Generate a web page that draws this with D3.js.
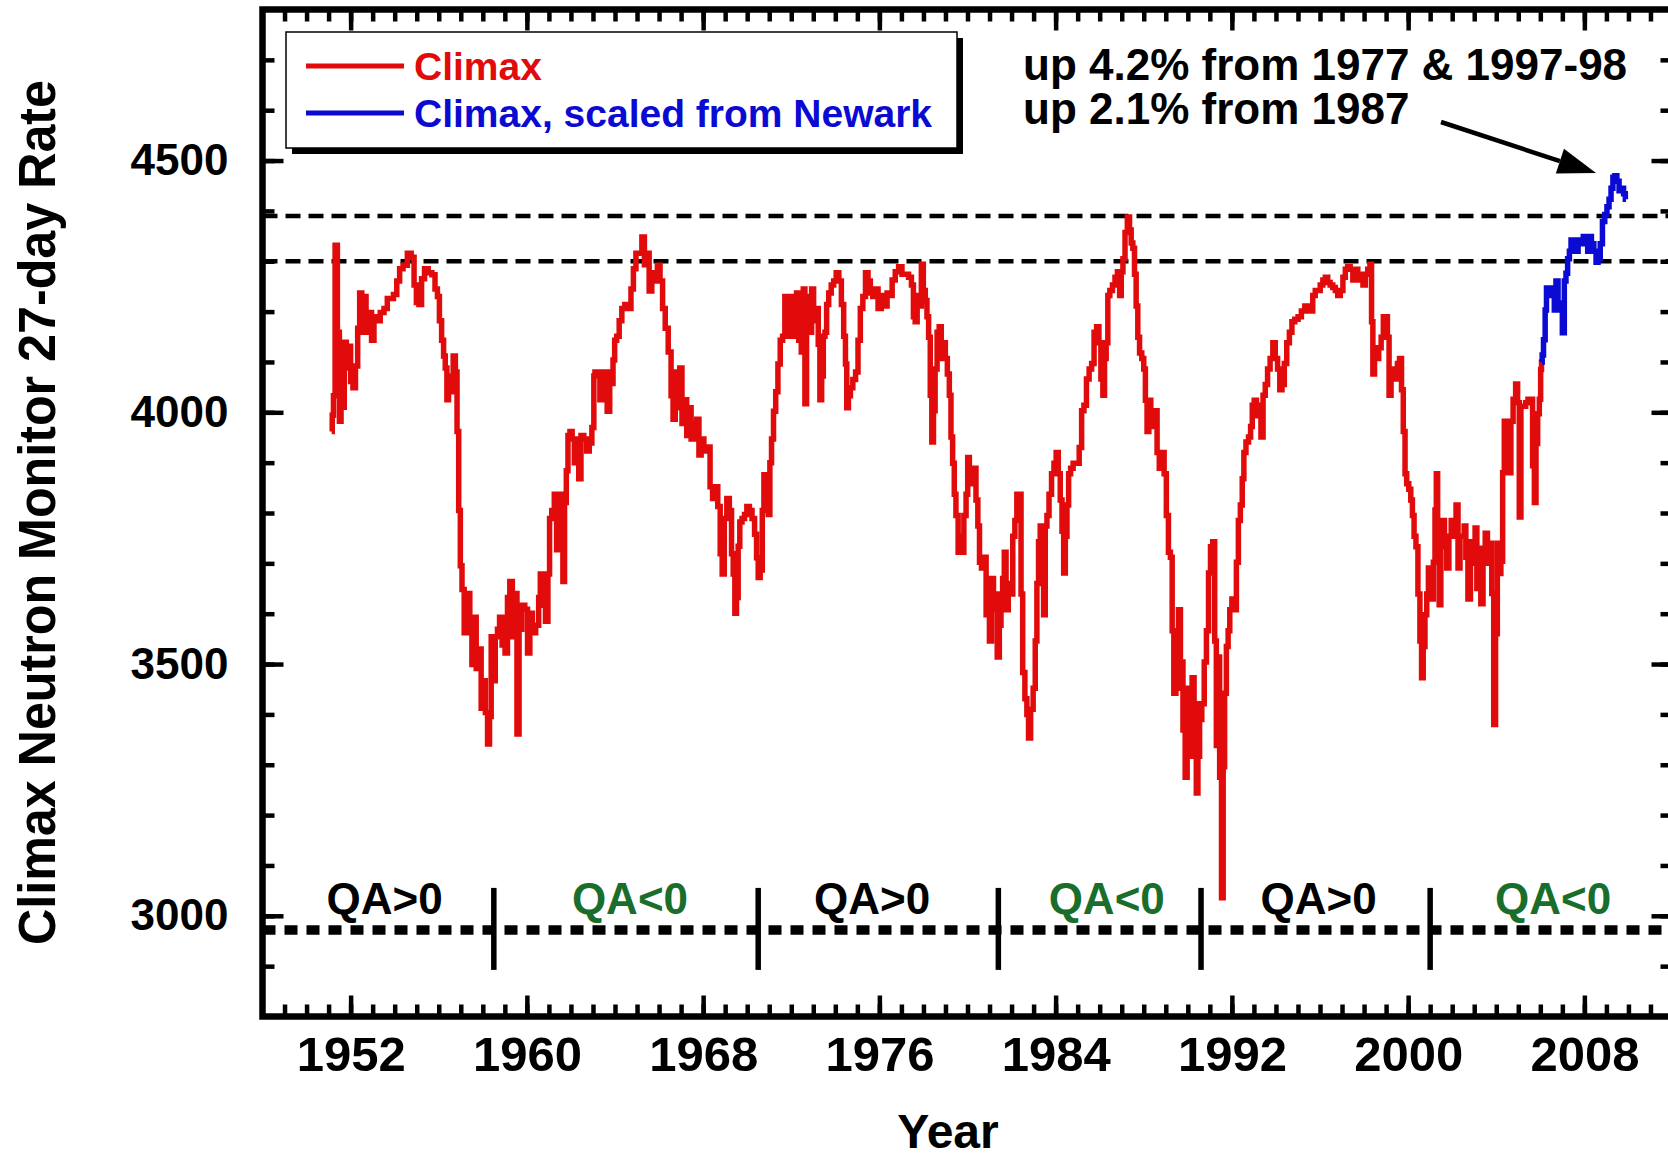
<!DOCTYPE html>
<html>
<head>
<meta charset="utf-8">
<script src="https://cdn.jsdelivr.net/npm/d3@7"></script>
<style>
  html, body { margin: 0; padding: 0; background: #fff; }
  svg { display: block; }
  text { font-family: "Liberation Sans", Arial, Helvetica, sans-serif; font-weight: bold; }
</style>
</head>
<body>
<svg id="chart" width="1668" height="1158"></svg>
<script>
// Climax neutron monitor 27-day averaged counting rate: [year, rate]
const climax1950s = [[1951.14,3962],[1951.19,3994],[1951.25,4033],[1951.34,4332],[1951.46,4159],[1951.52,3982],[1951.61,4120],[1951.67,4010],[1951.75,4139],[1951.86,4088],[1951.95,4131],[1952.05,4061],[1952.16,4049],[1952.28,4092],[1952.36,4167],[1952.46,4237],[1952.55,4159],[1952.66,4230],[1952.74,4159],[1952.89,4198],[1953.01,4143],[1953.11,4190],[1953.27,4182],[1953.42,4198],[1953.61,4206],[1953.72,4226],[1953.87,4226],[1954.02,4234],[1954.17,4261],[1954.28,4285],[1954.48,4292],[1954.67,4316],[1954.83,4308],[1954.93,4253],[1955.04,4218],[1955.16,4214],[1955.28,4265],[1955.43,4285],[1955.61,4277],[1955.77,4273],[1955.89,4245],[1955.99,4230],[1956.07,4182],[1956.19,4143],[1956.25,4112],[1956.34,4088],[1956.40,4025],[1956.49,4072],[1956.60,4041],[1956.71,4112],[1956.80,4080],[1956.86,3962],[1956.95,3805],[1957.01,3695],[1957.10,3648],[1957.21,3562],[1957.36,3640],[1957.46,3562],[1957.55,3499],[1957.66,3593],[1957.74,3491],[1957.89,3530],[1957.96,3412],[1958.07,3467],[1958.16,3404],[1958.27,3341],[1958.34,3396],[1958.42,3554],[1958.52,3467],[1958.61,3554],[1958.72,3569],[1958.80,3593],[1958.95,3538],[1959.07,3522],[1959.17,3632],[1959.28,3664],[1959.40,3554],[1959.52,3640],[1959.58,3361],[1959.71,3569],[1959.83,3617],[1959.98,3609]];

const climax1960s = [[1960.08,3522],[1960.19,3601],[1960.31,3562],[1960.49,3577],[1960.58,3632],[1960.64,3679],[1960.77,3617],[1960.92,3585],[1960.99,3679],[1961.07,3789],[1961.19,3805],[1961.30,3837],[1961.40,3727],[1961.49,3837],[1961.60,3789],[1961.67,3664],[1961.75,3821],[1961.83,3884],[1961.90,3954],[1962.01,3962],[1962.10,3947],[1962.21,3900],[1962.31,3947],[1962.40,3868],[1962.51,3954],[1962.66,3947],[1962.77,3923],[1962.89,3939],[1963.01,3970],[1963.07,4072],[1963.11,4080],[1963.26,4080],[1963.37,4025],[1963.46,4080],[1963.57,4072],[1963.72,4002],[1963.80,4080],[1963.87,4057],[1963.95,4104],[1964.02,4143],[1964.13,4151],[1964.25,4182],[1964.37,4206],[1964.52,4214],[1964.67,4206],[1964.78,4245],[1964.89,4285],[1965.01,4316],[1965.16,4316],[1965.28,4348],[1965.39,4293],[1965.49,4316],[1965.61,4241],[1965.73,4261],[1965.86,4277],[1965.99,4292],[1966.10,4261],[1966.22,4206],[1966.34,4167],[1966.49,4120],[1966.60,4033],[1966.67,3986],[1966.80,4080],[1966.90,4009],[1966.98,4088],[1967.10,3978],[1967.20,4025],[1967.31,3954],[1967.40,4009],[1967.51,3947],[1967.66,3978],[1967.76,3986],[1967.86,3915],[1967.96,3947],[1968.11,3923],[1968.26,3931],[1968.37,3852],[1968.49,3829],[1968.61,3852],[1968.72,3813],[1968.83,3719],[1968.90,3679],[1969.02,3789],[1969.13,3829],[1969.25,3805],[1969.33,3719],[1969.40,3679],[1969.48,3601],[1969.55,3632],[1969.63,3734],[1969.70,3782],[1969.83,3789],[1969.93,3797]];

const climax1970s = [[1970.04,3813],[1970.16,3805],[1970.28,3789],[1970.39,3758],[1970.46,3711],[1970.54,3672],[1970.64,3687],[1970.73,3805],[1970.79,3876],[1970.92,3876],[1970.99,3797],[1971.07,3900],[1971.14,3947],[1971.25,4002],[1971.34,4041],[1971.45,4096],[1971.55,4143],[1971.67,4151],[1971.75,4230],[1971.86,4151],[1971.95,4230],[1972.05,4198],[1972.13,4151],[1972.20,4167],[1972.28,4237],[1972.40,4143],[1972.51,4120],[1972.58,4245],[1972.66,4017],[1972.73,4182],[1972.81,4230],[1972.89,4159],[1972.96,4245],[1973.07,4182],[1973.19,4206],[1973.26,4135],[1973.34,4025],[1973.42,4072],[1973.49,4151],[1973.57,4159],[1973.64,4214],[1973.76,4237],[1973.87,4253],[1973.98,4261],[1974.10,4277],[1974.22,4261],[1974.33,4214],[1974.43,4151],[1974.49,4096],[1974.55,4009],[1974.64,4033],[1974.73,4049],[1974.86,4065],[1974.98,4080],[1975.08,4143],[1975.19,4206],[1975.31,4230],[1975.43,4277],[1975.54,4261],[1975.64,4237],[1975.76,4230],[1975.89,4245],[1975.99,4206],[1976.19,4232],[1976.30,4211],[1976.40,4237],[1976.52,4232],[1976.64,4263],[1976.80,4279],[1976.95,4289],[1977.10,4274],[1977.25,4274],[1977.40,4268],[1977.51,4253],[1977.58,4190],[1977.67,4180],[1977.76,4232],[1977.86,4211],[1977.95,4294],[1978.04,4242],[1978.13,4222],[1978.19,4190],[1978.28,4149],[1978.34,4034],[1978.42,3941],[1978.49,4003],[1978.57,4086],[1978.67,4159],[1978.76,4170],[1978.86,4107],[1978.95,4138],[1979.04,4107],[1979.13,4076],[1979.22,4034],[1979.28,3951],[1979.37,3899],[1979.43,3837],[1979.52,3795],[1979.63,3722],[1979.70,3754],[1979.78,3722],[1979.89,3795],[1979.98,3837]];

const climax1980s = [[1980.04,3910],[1980.13,3858],[1980.23,3878],[1980.34,3889],[1980.43,3826],[1980.51,3774],[1980.58,3702],[1980.69,3691],[1980.80,3712],[1980.89,3598],[1980.95,3670],[1981.04,3546],[1981.14,3670],[1981.22,3608],[1981.30,3639],[1981.40,3514],[1981.49,3577],[1981.55,3639],[1981.64,3670],[1981.70,3722],[1981.80,3608],[1981.90,3660],[1982.01,3639],[1982.10,3754],[1982.20,3785],[1982.28,3837],[1982.40,3837],[1982.46,3639],[1982.55,3483],[1982.66,3431],[1982.73,3400],[1982.81,3353],[1982.92,3410],[1983.04,3452],[1983.11,3546],[1983.19,3660],[1983.26,3743],[1983.34,3774],[1983.42,3660],[1983.49,3598],[1983.57,3774],[1983.64,3795],[1983.76,3837],[1983.87,3878],[1983.98,3899],[1984.07,3920],[1984.17,3878],[1984.25,3826],[1984.33,3764],[1984.40,3681],[1984.48,3754],[1984.55,3816],[1984.63,3878],[1984.73,3889],[1984.86,3899],[1985.01,3899],[1985.13,3930],[1985.23,4003],[1985.34,4014],[1985.46,4066],[1985.58,4086],[1985.69,4097],[1985.80,4159],[1985.92,4170],[1986.01,4138],[1986.10,4066],[1986.19,4034],[1986.25,4107],[1986.34,4138],[1986.40,4232],[1986.52,4242],[1986.64,4253],[1986.75,4268],[1986.86,4279],[1986.95,4232],[1987.01,4279],[1987.10,4305],[1987.20,4357],[1987.31,4388],[1987.40,4362],[1987.46,4336],[1987.55,4326],[1987.61,4274],[1987.70,4211],[1987.76,4149],[1987.86,4118],[1987.96,4107],[1988.04,4086],[1988.11,4024],[1988.19,3962],[1988.27,4024],[1988.37,4003],[1988.46,3972],[1988.57,4003],[1988.64,3920],[1988.77,3889],[1988.87,3920],[1988.98,3878],[1989.07,3795],[1989.17,3722],[1989.25,3712],[1989.33,3566],[1989.40,3442],[1989.52,3546],[1989.63,3608],[1989.70,3452],[1989.73,3504],[1989.83,3369],[1989.93,3275]];

const climax1990s = [[1990.01,3452],[1990.08,3400],[1990.16,3317],[1990.23,3473],[1990.34,3421],[1990.43,3244],[1990.49,3317],[1990.58,3390],[1990.69,3421],[1990.80,3504],[1990.89,3566],[1990.99,3681],[1991.07,3733],[1991.19,3743],[1991.25,3546],[1991.34,3338],[1991.40,3514],[1991.49,3275],[1991.57,3036],[1991.64,3296],[1991.70,3442],[1991.80,3535],[1991.86,3566],[1991.95,3608],[1992.05,3629],[1992.16,3608],[1992.25,3702],[1992.34,3785],[1992.43,3816],[1992.51,3868],[1992.58,3920],[1992.70,3941],[1992.81,3951],[1992.89,3972],[1992.96,4014],[1993.07,4024],[1993.16,3993],[1993.27,4014],[1993.37,3951],[1993.46,4034],[1993.57,4055],[1993.67,4086],[1993.80,4107],[1993.92,4138],[1994.02,4107],[1994.13,4086],[1994.22,4045],[1994.33,4055],[1994.43,4097],[1994.55,4138],[1994.67,4159],[1994.78,4180],[1994.93,4185],[1995.08,4190],[1995.23,4201],[1995.39,4211],[1995.49,4206],[1995.61,4201],[1995.73,4232],[1995.84,4242],[1995.95,4242],[1996.07,4253],[1996.19,4263],[1996.30,4268],[1996.40,4258],[1996.52,4253],[1996.64,4248],[1996.75,4242],[1996.86,4232],[1996.98,4242],[1997.10,4268],[1997.20,4284],[1997.31,4289],[1997.43,4284],[1997.55,4263],[1997.66,4284],[1997.77,4274],[1997.89,4263],[1998.01,4253],[1998.11,4274],[1998.22,4284],[1998.31,4294],[1998.37,4180],[1998.43,4076],[1998.52,4128],[1998.61,4107],[1998.72,4128],[1998.83,4149],[1998.92,4190],[1999.02,4190],[1999.10,4149],[1999.17,4034],[1999.28,4086],[1999.37,4076],[1999.48,4066],[1999.55,4097],[1999.67,4107],[1999.73,4045],[1999.83,3962],[1999.89,3878],[1999.98,3858]];

const climax2000s = [[2000.08,3847],[2000.16,3826],[2000.23,3795],[2000.31,3754],[2000.40,3733],[2000.49,3639],[2000.58,3546],[2000.64,3473],[2000.73,3535],[2000.80,3598],[2000.89,3639],[2000.95,3691],[2001.04,3681],[2001.10,3629],[2001.19,3702],[2001.25,3806],[2001.31,3878],[2001.37,3754],[2001.45,3618],[2001.52,3733],[2001.60,3785],[2001.70,3733],[2001.80,3691],[2001.90,3754],[2002.01,3785],[2002.13,3754],[2002.22,3816],[2002.31,3691],[2002.40,3754],[2002.51,3754],[2002.58,3774],[2002.66,3712],[2002.77,3629],[2002.89,3743],[2003.00,3700],[2003.08,3770],[2003.16,3650],[2003.25,3730],[2003.35,3620],[2003.45,3700],[2003.55,3760],[2003.65,3700],[2003.75,3740],[2003.84,3640],[2003.93,3380],[2004.01,3560],[2004.09,3740],[2004.17,3680],[2004.25,3704],[2004.33,3880],[2004.40,3982],[2004.48,3909],[2004.55,3982],[2004.63,3880],[2004.70,3982],[2004.83,4026],[2004.93,4056],[2005.01,4019],[2005.08,3792],[2005.16,4012],[2005.28,4012],[2005.39,4019],[2005.49,4026],[2005.61,4026],[2005.69,3894],[2005.77,3821],[2005.84,3938],[2005.92,3997],[2005.99,4026],[2006.04,4085],[2006.07,4100]];

// Climax rate reconstructed from the Newark monitor after Climax closed
const climaxScaledNewark = [[2006.07,4100],[2006.10,4114],[2006.19,4144],[2006.25,4203],[2006.31,4247],[2006.40,4232],[2006.49,4247],[2006.60,4232],[2006.67,4203],[2006.75,4261],[2006.86,4203],[2006.95,4217],[2007.05,4158],[2007.13,4261],[2007.20,4276],[2007.28,4305],[2007.36,4320],[2007.43,4342],[2007.55,4335],[2007.66,4320],[2007.77,4342],[2007.89,4335],[2008.01,4349],[2008.11,4335],[2008.19,4320],[2008.27,4349],[2008.37,4335],[2008.49,4320],[2008.57,4298],[2008.67,4305],[2008.77,4335],[2008.87,4379],[2008.98,4393],[2009.07,4408],[2009.17,4423],[2009.25,4445],[2009.34,4467],[2009.43,4470],[2009.52,4459],[2009.63,4440],[2009.73,4445],[2009.83,4434],[2009.89,4423]];

// Earlier solar-minimum maxima shown as dashed reference levels
const referenceLevels = [4390, 4300];

// Solar magnetic polarity epochs
const qaLevel = 2972;
const qaReversalYears = [1958.5, 1970.5, 1981.4, 1990.6, 2001.0];
const qaLabels = ["QA>0", "QA<0", "QA>0", "QA<0", "QA>0", "QA<0"];
const qaLabelYears = [1953.54, 1964.68, 1975.67, 1986.32, 1995.94, 2006.58];

// Axes
const yearDomain = [1948, 2012];
const rateDomain = [2800, 4800];
const yearTickLabels = [1952, 1960, 1968, 1976, 1984, 1992, 2000, 2008];
const rateTickLabels = [3000, 3500, 4000, 4500];

const legendLabels = ["Climax", "Climax, scaled from Newark"];
const annotationLines = ["up 4.2% from 1977 & 1997-98", "up 2.1% from 1987"];

// ---------------------------------------------------------------
const RED = "#e10b0b", BLUE = "#0a0ad2", GREEN = "#1a6e2c";
const svg = d3.select("#chart");

const x = d3.scaleLinear().domain(yearDomain).range([262.5, 1672.5]);
const y = d3.scaleLinear().domain(rateDomain).range([1016.5, 9.5]);

const x0 = x(yearDomain[0]), x1 = x(yearDomain[1]);
const yTop = y(rateDomain[1]), yBot = y(rateDomain[0]);

// reference levels
svg.append("g").selectAll("line").data(referenceLevels).join("line")
  .attr("x1", x0).attr("x2", x1)
  .attr("y1", d => y(d)).attr("y2", d => y(d))
  .attr("stroke", "#000").attr("stroke-width", 4.5)
  .attr("stroke-dasharray", "15 8");

// polarity epoch line and reversal markers
svg.append("line")
  .attr("x1", x0).attr("x2", x1)
  .attr("y1", y(qaLevel)).attr("y2", y(qaLevel))
  .attr("stroke", "#000").attr("stroke-width", 9.5)
  .attr("stroke-dasharray", "13 9");

svg.append("g").selectAll("line").data(qaReversalYears).join("line")
  .attr("x1", d => x(d)).attr("x2", d => x(d))
  .attr("y1", y(qaLevel) - 42).attr("y2", y(qaLevel) + 40)
  .attr("stroke", "#000").attr("stroke-width", 5.5);

svg.append("g").selectAll("text").data(qaLabels).join("text")
  .attr("x", (d, i) => x(qaLabelYears[i]))
  .attr("y", y(qaLevel) - 16)
  .attr("text-anchor", "middle")
  .attr("font-size", 44)
  .attr("fill", d => d === "QA<0" ? GREEN : "#000")
  .text(d => d);

// data lines
const line = d3.line()
  .x(d => x(d[0])).y(d => y(d[1]))
  .curve(d3.curveStep);

const climax = [].concat(climax1950s, climax1960s, climax1970s, climax1980s, climax1990s, climax2000s);

svg.append("path").datum(climax)
  .attr("d", line).attr("fill", "none")
  .attr("stroke", RED).attr("stroke-width", 5.5).attr("stroke-linejoin", "miter");

svg.append("path").datum(climaxScaledNewark)
  .attr("d", line).attr("fill", "none")
  .attr("stroke", BLUE).attr("stroke-width", 5.5).attr("stroke-linejoin", "miter");

// axes: inward ticks on all four sides
const fontStack = '"Liberation Sans", Arial, Helvetica, sans-serif';
function styleAxis(g) {
  g.select(".domain").remove();
  g.selectAll(".tick line").attr("stroke", "#000").attr("stroke-width", 4.5);
  g.attr("font-family", fontStack).attr("font-weight", "bold");
}
const everyYear = d3.range(yearDomain[0] + 1, yearDomain[1]);
const everyHundred = d3.range(rateDomain[0] + 100, rateDomain[1], 100);

// bottom
svg.append("g").attr("transform", `translate(0,${yBot})`)
  .call(d3.axisBottom(x).tickValues(everyYear).tickSize(-12).tickFormat(""))
  .call(styleAxis);
svg.append("g").attr("transform", `translate(0,${yBot})`)
  .call(d3.axisBottom(x).tickValues(yearTickLabels).tickSize(-21).tickPadding(20).tickFormat(d3.format("d")))
  .call(styleAxis)
  .attr("font-size", 49);

// top
svg.append("g").attr("transform", `translate(0,${yTop})`)
  .call(d3.axisTop(x).tickValues(everyYear).tickSize(-12).tickFormat(""))
  .call(styleAxis);
svg.append("g").attr("transform", `translate(0,${yTop})`)
  .call(d3.axisTop(x).tickValues(yearTickLabels).tickSize(-21).tickFormat(""))
  .call(styleAxis);

// left
svg.append("g").attr("transform", `translate(${x0},0)`)
  .call(d3.axisLeft(y).tickValues(everyHundred).tickSize(-12).tickFormat(""))
  .call(styleAxis);
svg.append("g").attr("transform", `translate(${x0},0)`)
  .call(d3.axisLeft(y).tickValues(rateTickLabels).tickSize(-21).tickPadding(34).tickFormat(d3.format("d")))
  .call(styleAxis)
  .attr("font-size", 44);

// right
svg.append("g").attr("transform", `translate(${x1},0)`)
  .call(d3.axisRight(y).tickValues(everyHundred).tickSize(-12).tickFormat(""))
  .call(styleAxis);
svg.append("g").attr("transform", `translate(${x1},0)`)
  .call(d3.axisRight(y).tickValues(rateTickLabels).tickSize(-21).tickFormat(""))
  .call(styleAxis);

// frame
svg.append("rect")
  .attr("x", x0).attr("y", yTop)
  .attr("width", x1 - x0).attr("height", yBot - yTop)
  .attr("fill", "none").attr("stroke", "#000").attr("stroke-width", 6.5);

// axis titles
svg.append("text")
  .attr("transform", "translate(55,512.5) rotate(-90)")
  .attr("text-anchor", "middle")
  .attr("font-size", 51)
  .attr("textLength", 865).attr("lengthAdjust", "spacingAndGlyphs")
  .text("Climax Neutron Monitor 27-day Rate");

svg.append("text")
  .attr("x", 948).attr("y", 1148)
  .attr("text-anchor", "middle")
  .attr("font-size", 48)
  .text("Year");

// legend with drop shadow
const legend = svg.append("g").attr("transform", "translate(286,32)");
legend.append("rect").attr("x", 6).attr("y", 6).attr("width", 671).attr("height", 116).attr("fill", "#000");
legend.append("rect").attr("x", 0).attr("y", 0).attr("width", 671).attr("height", 116)
  .attr("fill", "#fff").attr("stroke", "#000").attr("stroke-width", 1.5);
const legendColors = [RED, BLUE];
legendLabels.forEach((label, i) => {
  const cy = 34 + i * 47;
  legend.append("line").attr("x1", 20).attr("x2", 118).attr("y1", cy).attr("y2", cy)
    .attr("stroke", legendColors[i]).attr("stroke-width", 5);
  legend.append("text").attr("x", 128).attr("y", cy + 14)
    .attr("font-size", 39).attr("fill", legendColors[i]).text(label);
});

// annotation and arrow toward the recent maximum
annotationLines.forEach((t, i) => {
  svg.append("text").attr("x", 1023).attr("y", 80 + i * 44)
    .attr("font-size", 44).text(t);
});
const tail = [1441, 122], tip = [1596, 173];
const dx = tip[0] - tail[0], dy = tip[1] - tail[1];
const len = Math.hypot(dx, dy), ux = dx / len, uy = dy / len;
const headLen = 38, headHalf = 13;
const base = [tip[0] - ux * headLen, tip[1] - uy * headLen];
svg.append("line")
  .attr("x1", tail[0]).attr("y1", tail[1]).attr("x2", base[0]).attr("y2", base[1])
  .attr("stroke", "#000").attr("stroke-width", 4.5);
svg.append("polygon")
  .attr("points", [
    tip,
    [base[0] - uy * headHalf, base[1] + ux * headHalf],
    [base[0] + uy * headHalf, base[1] - ux * headHalf]
  ].map(p => p.join(",")).join(" "))
  .attr("fill", "#000");
</script>
</body>
</html>
